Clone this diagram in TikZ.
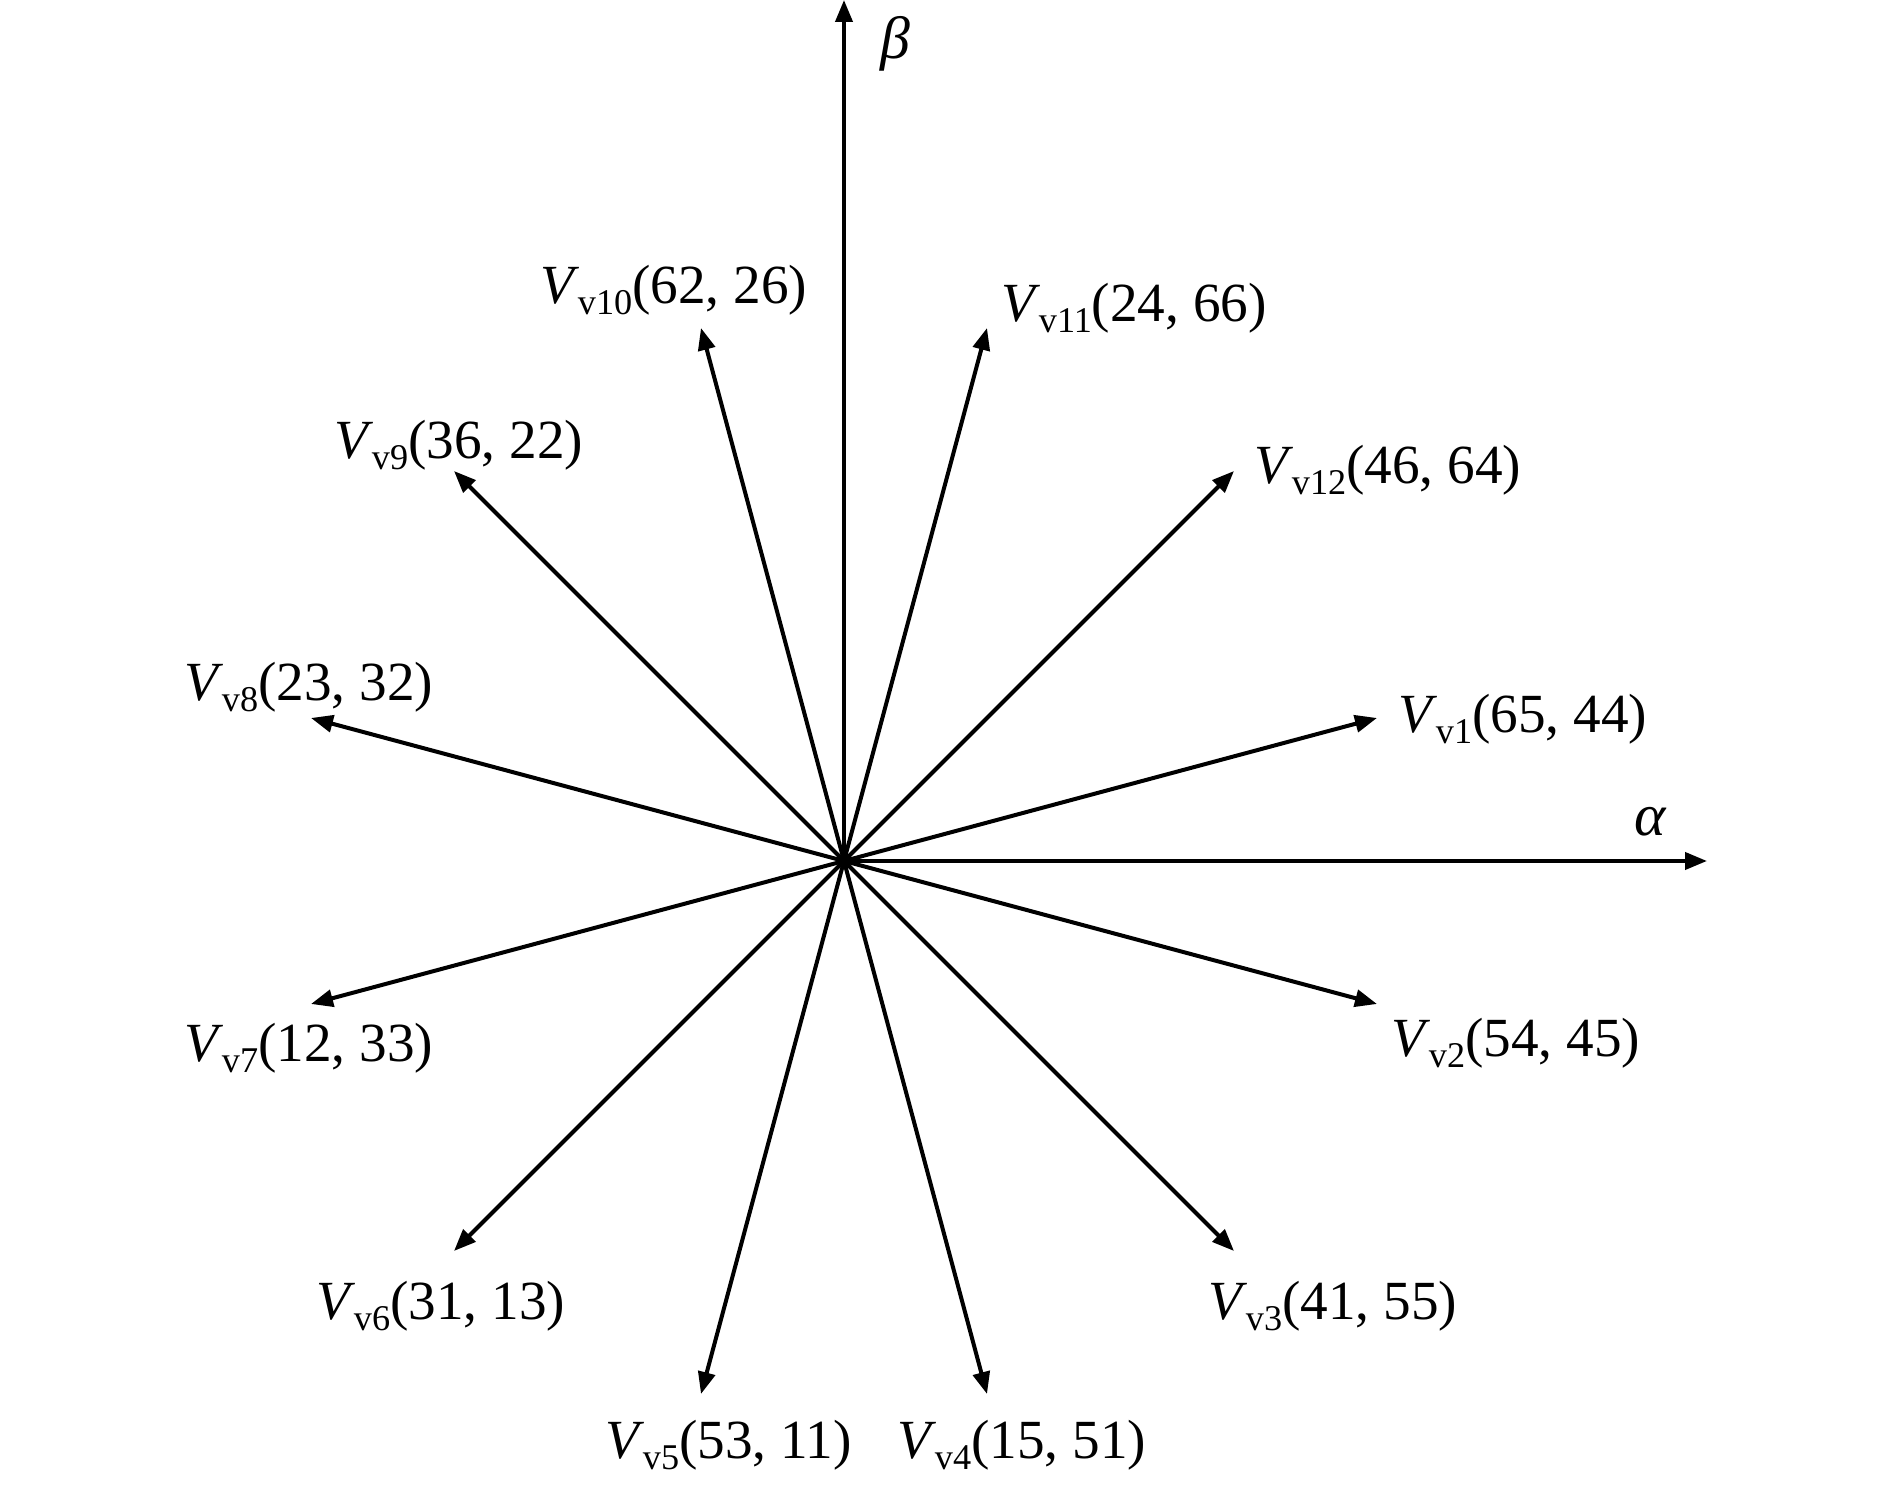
\documentclass[tikz,border=0pt]{standalone}
\usepackage{fontspec}
\setmainfont{Liberation Serif}
\usetikzlibrary{arrows.meta}
\newcommand\vlab[2]{\textit{V}\kern-0.5pt\raisebox{-3.1pt}{\fontsize{10.3}{12}\selectfont v#1}(#2)}
\begin{document}
\begin{tikzpicture}[x=0.01cm,y=-0.01cm,
  vec/.style={line width=0.04cm,-{Triangle[length=0.22cm,width=0.17cm]}},
  lab/.style={anchor=base west,inner sep=0pt,font=\fontsize{15.7}{19}\selectfont},
  glab/.style={inner sep=0pt,font=\fontsize{17}{20}\selectfont}]
\useasboundingbox (0,0) rectangle (1890,1492);
\coordinate (O) at (844,861);
\coordinate (atip) at (1707,861);
\coordinate (btip) at (844,0);
\draw[vec] (O) -- (atip);
\draw[vec] (O) -- (btip);
\node[glab] (alpha) at (1651,822) {\textit{α}};
\node[glab] (beta) at (895,44) {\textit{β}};
% vector tips
\coordinate (t1) at (1377,718);
\coordinate (t2) at (1377,1004);
\coordinate (t3) at (1234,1251);
\coordinate (t4) at (987,1394);
\coordinate (t5) at (701,1394);
\coordinate (t6) at (454,1251);
\coordinate (t7) at (311,1004);
\coordinate (t8) at (311,718);
\coordinate (t9) at (454,471);
\coordinate (t10) at (701,328);
\coordinate (t11) at (987,328);
\coordinate (t12) at (1234,471);
\foreach \i in {1,...,12} \draw[vec] (O) -- (t\i);
% labels
\node[lab] (l1) at (1398,733) {\vlab{1}{65, 44}};
\node[lab] (l2) at (1391,1057) {\vlab{2}{54, 45}};
\node[lab] (l3) at (1208,1320) {\vlab{3}{41, 55}};
\node[lab] (l4) at (897,1459) {\vlab{4}{15, 51}};
\node[lab] (l5) at (605,1459) {\vlab{5}{53, 11}};
\node[lab] (l6) at (316,1320) {\vlab{6}{31, 13}};
\node[lab] (l7) at (184,1062) {\vlab{7}{12, 33}};
\node[lab] (l8) at (184,701) {\vlab{8}{23, 32}};
\node[lab] (l9) at (334,459) {\vlab{9}{36, 22}};
\node[lab] (l10) at (540,304) {\vlab{10}{62, 26}};
\node[lab] (l11) at (1001,322) {\vlab{11}{24, 66}};
\node[lab] (l12) at (1254,484) {\vlab{12}{46, 64}};
\end{tikzpicture}
\end{document}
